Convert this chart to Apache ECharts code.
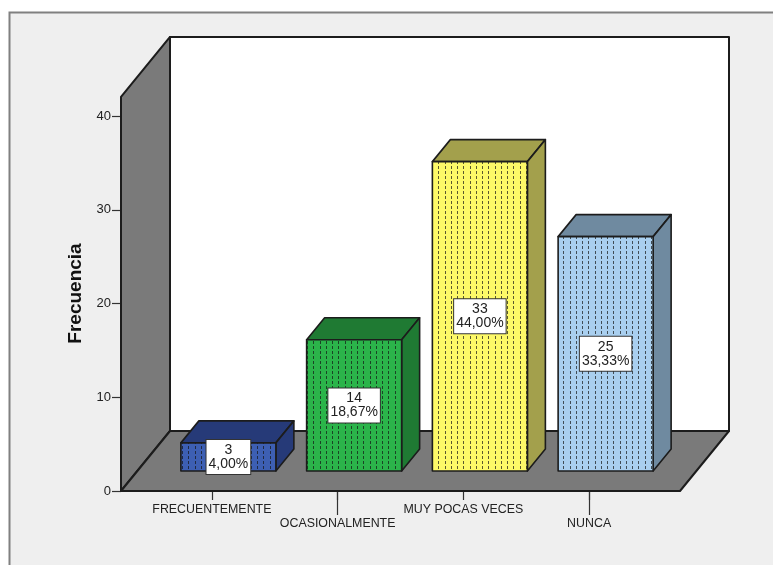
<!DOCTYPE html>
<html>
<head>
<meta charset="utf-8">
<style>
  html, body { margin: 0; padding: 0; background: #fff; }
  #main { width: 773px; height: 565px; }
</style>
<script src="https://cdn.jsdelivr.net/npm/echarts@6/dist/echarts.min.js"></script>
</head>
<body>
<div id="main"></div>
<script>
const categories = ['FRECUENTEMENTE', 'OCASIONALMENTE', 'MUY POCAS VECES', 'NUNCA']
const counts = [3, 14, 33, 25]
const percents = ['4,00%', '18,67%', '44,00%', '33,33%']
const yTicks = [0, 10, 20, 30, 40]

const frontColors = ['#3d5fb3', '#2bb44a', '#fdf968', '#a9cfef']
const topColors = ['#263a78', '#1f7a33', '#a3a04c', '#6f8aa0']

const font = '"Liberation Sans", Arial, sans-serif'
const edge = '#1c1c1c'
const wallColor = '#7a7a7a'

// profundidad de la caja y de las barras
const wallDx = 49, wallDy = 60, wallTopValue = 42.03
const barDx = 18, barDy = 22, barShiftX = 16.5, barShiftY = 20, barWidth = 95

// trama de puntos de la cara frontal
function dotPattern() {
  const c = document.createElement('canvas')
  c.width = 25
  c.height = 5
  const ctx = c.getContext('2d')
  ctx.fillStyle = 'rgba(20,20,20,0.7)'
  ;[1, 7, 13, 20].forEach(function (x) {
    ctx.fillRect(x, 1, 1, 3)
  })
  return c
}
const pattern = { image: dotPattern(), repeat: 'repeat' }

function renderBox(params, api) {
  const origin = api.coord([0, 0])
  const band = api.size([1, 0])[0]
  const left = origin[0] - band / 2 - 28
  const right = left + 559
  const y0 = origin[1]
  const yTop = api.coord([0, wallTopValue])[1]
  const poly = function (pts, fill) {
    return {
      type: 'polygon',
      shape: { points: pts },
      style: { fill: fill, stroke: edge, lineWidth: 2, lineJoin: 'round' }
    }
  }
  const yBack = yTop - wallDy
  return {
    type: 'group',
    children: [
      poly([[left + wallDx, yBack], [right + wallDx, yBack], [right + wallDx, y0 - wallDy], [left + wallDx, y0 - wallDy]], '#ffffff'),
      poly([[left, yTop], [left + wallDx, yBack], [left + wallDx, y0 - wallDy], [left, y0]], wallColor),
      poly([[left, y0], [left + wallDx, y0 - wallDy], [right + wallDx, y0 - wallDy], [right, y0]], wallColor)
    ]
  }
}

function renderBar(params, api) {
  const i = api.value(0)
  const v = api.value(1)
  const base = api.coord([i, 0])
  const tip = api.coord([i, v])
  const x1 = base[0] + barShiftX - barWidth / 2
  const x2 = x1 + barWidth
  const yB = base[1] - barShiftY
  const yT = tip[1] - barShiftY
  const line = { stroke: edge, lineWidth: 1.6, lineJoin: 'round' }
  return {
    type: 'group',
    children: [
      {
        type: 'polygon',
        shape: { points: [[x1, yT], [x2, yT], [x2 + barDx, yT - barDy], [x1 + barDx, yT - barDy]] },
        style: Object.assign({ fill: topColors[i] }, line)
      },
      {
        type: 'polygon',
        shape: { points: [[x2, yT], [x2 + barDx, yT - barDy], [x2 + barDx, yB - barDy], [x2, yB]] },
        style: Object.assign({ fill: topColors[i] }, line)
      },
      {
        type: 'rect',
        shape: { x: x1, y: yT, width: barWidth, height: yB - yT },
        style: { fill: frontColors[i] }
      },
      {
        type: 'rect',
        shape: { x: x1, y: yT, width: barWidth, height: yB - yT },
        style: Object.assign({ fill: pattern }, line)
      },
      {
        type: 'text',
        x: (x1 + x2) / 2,
        y: (yT + yB) / 2,
        style: {
          text: counts[i] + '\n' + percents[i],
          align: 'center',
          verticalAlign: 'middle',
          font: '14px ' + font,
          lineHeight: 14,
          fill: '#222',
          backgroundColor: '#fff',
          borderColor: '#333',
          borderWidth: 1,
          padding: [3, 2, 3, 2]
        }
      }
    ]
  }
}

const chart = echarts.init(document.getElementById('main'), null, { renderer: 'canvas' })
chart.setOption({
  animation: false,
  backgroundColor: '#ffffff',
  graphic: [{
    type: 'rect',
    z: -10,
    shape: { x: 9.5, y: 12.5, width: 780, height: 570 },
    style: { fill: '#efefef', stroke: '#808080', lineWidth: 2 }
  }],
  grid: { left: 149, right: 121, top: 116, bottom: 74 },
  xAxis: [
    {
      type: 'category',
      data: categories,
      axisLine: { show: false },
      axisTick: { show: true, alignWithLabel: true, length: 9, lineStyle: { color: '#333', width: 1.2 } },
      axisLabel: {
        color: '#222',
        fontFamily: font,
        fontSize: 12.4,
        margin: 12,
        interval: 0,
        lineHeight: 14,
        formatter: function (value, index) {
          return index % 2 ? '\n' + value : value
        }
      }
    },
    {
      type: 'category',
      position: 'bottom',
      data: categories,
      axisLine: { show: false },
      axisLabel: { show: false },
      axisTick: {
        show: true,
        alignWithLabel: true,
        length: 24,
        interval: function (index) { return index % 2 === 1 },
        lineStyle: { color: '#333', width: 1.2 }
      }
    }
  ],
  yAxis: {
    type: 'value',
    min: yTicks[0],
    max: yTicks[yTicks.length - 1],
    interval: 10,
    offset: 28,
    name: 'Frecuencia',
    nameLocation: 'middle',
    nameGap: 35,
    nameTextStyle: { fontFamily: font, fontWeight: 'bold', fontSize: 19, color: '#111', padding: [0, 0, 0, 20] },
    axisLine: { show: false },
    axisTick: { show: true, length: 9, lineStyle: { color: '#333', width: 1.2 } },
    axisLabel: { color: '#222', fontFamily: font, fontSize: 13, margin: 10 },
    splitLine: { show: false }
  },
  series: [
    {
      type: 'custom',
      renderItem: renderBox,
      data: [[0, 0]],
      clip: false,
      silent: true,
      z: 1
    },
    {
      type: 'custom',
      renderItem: renderBar,
      data: categories.map(function (c, i) { return [i, counts[i]] }),
      encode: { x: 0, y: 1 },
      clip: false,
      silent: true,
      z: 2
    }
  ]
})
</script>
</body>
</html>
